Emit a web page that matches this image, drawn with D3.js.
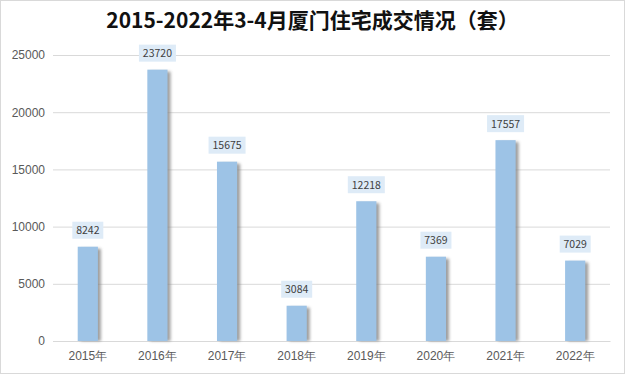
<!DOCTYPE html>
<html><head><meta charset="utf-8">
<script src="https://cdn.jsdelivr.net/npm/d3@7"></script>
<style>body{margin:0;background:#fff;}svg{display:block;font-family:"Microsoft YaHei","Noto Sans CJK SC",sans-serif;}</style>
</head><body><svg id="c" width="625" height="374"></svg>
<script>
const categories=["2015年","2016年","2017年","2018年","2019年","2020年","2021年","2022年"];
const values=[8242,23720,15675,3084,12218,7369,17557,7029];
const yTicks=[0,5000,10000,15000,20000,25000];
const title="2015-2022年3-4月厦门住宅成交情况（套）";

const svg=d3.select("#c");
const W=625,H=374,m={l:53,r:15,t:55,b:33};
svg.append("rect").attr("x",0.5).attr("y",0.5).attr("width",W-1).attr("height",H-1).attr("fill","#fff").attr("stroke","#d9d9d9");
const defs=svg.append("defs");
const f=defs.append("filter").attr("id","sh").attr("x","-50%").attr("y","-10%").attr("width","200%").attr("height","120%");
f.append("feGaussianBlur").attr("stdDeviation",1.5);

const x=d3.scaleBand().domain(categories).range([m.l,W-m.r]).paddingInner(0.71).paddingOuter(0.355);
const y=d3.scaleLinear().domain([0,25000]).range([H-m.b,m.t]);

svg.append("text").attr("x",W/2).attr("y",28).attr("text-anchor","middle").attr("font-size",21).attr("font-weight","bold").attr("fill","#111").text(title);

const ya=svg.append("g").attr("transform",`translate(${m.l},0)`).call(d3.axisLeft(y).tickValues(yTicks).tickSize(-(W-m.l-m.r)).tickFormat(d3.format("d")).tickPadding(8));
ya.select(".domain").remove();
ya.selectAll(".tick line").attr("stroke","#d9d9d9");
ya.selectAll(".tick text").attr("font-size",12).attr("fill","#595959");

const xa=svg.append("g").attr("transform",`translate(0,${H-m.b})`).call(d3.axisBottom(x).tickSize(0).tickPadding(10));
xa.select(".domain").attr("stroke","#d9d9d9");
xa.selectAll(".tick text").attr("font-size",12).attr("fill","#595959");

const g=svg.append("g");
g.selectAll(".s").data(values).join("rect").attr("x",(d,i)=>x(categories[i])+3).attr("y",d=>y(d)+2)
 .attr("width",x.bandwidth()).attr("height",d=>y(0)-y(d)-2).attr("fill","#7f7f7f").attr("opacity",0.75).attr("filter","url(#sh)");
g.selectAll(".b").data(values).join("rect").attr("x",(d,i)=>x(categories[i])).attr("y",d=>y(d))
 .attr("width",x.bandwidth()).attr("height",d=>y(0)-y(d)).attr("fill","#9dc3e6");

const lab=svg.append("g");
values.forEach((v,i)=>{
  const cx=x(categories[i])+x.bandwidth()/2;
  const s=String(v);
  const w=s.length*6+7;
  lab.append("rect").attr("x",cx-w/2).attr("y",y(v)-25).attr("width",w).attr("height",17).attr("fill","#deebf7");
  lab.append("text").attr("x",cx).attr("y",y(v)-12.5).attr("text-anchor","middle").attr("font-size",10.5).attr("fill","#404040").text(s);
});
</script></body></html>
